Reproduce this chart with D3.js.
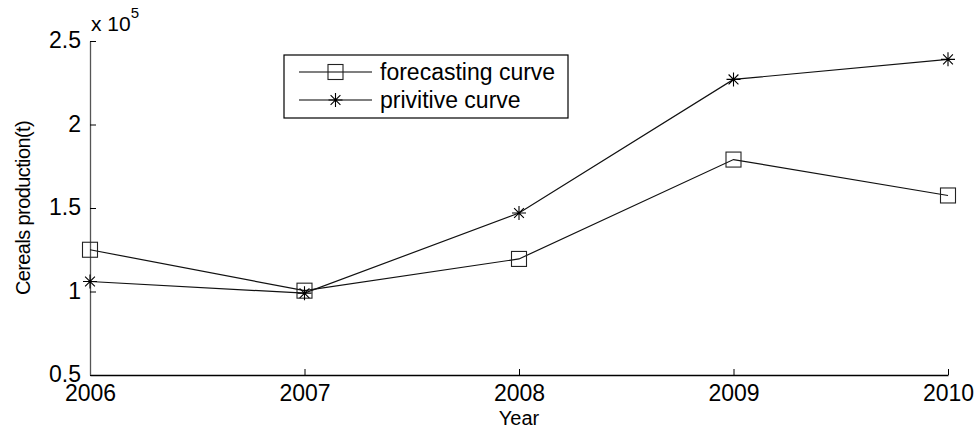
<!DOCTYPE html>
<html><head><meta charset="utf-8">
<script src="https://cdn.jsdelivr.net/npm/d3@7"></script>
<style>body{margin:0;background:#fff}svg{display:block}text{font-family:"Liberation Sans",Arial,sans-serif;fill:#000}</style>
</head><body><svg id="c" width="978" height="429"></svg>
<script>
const years = [2006, 2007, 2008, 2009, 2010];
const forecasting = [1.25, 1.005, 1.195, 1.79, 1.575];   // x 10^5
const primitive = [1.06, 0.99, 1.47, 2.27, 2.39];        // x 10^5
const yTicks = [0.5, 1, 1.5, 2, 2.5];
const seriesNames = ["forecasting curve", "privitive curve"];

const svg = d3.select("#c");
const L = 90, R = 948, T = 41, B = 375;
const x = d3.scaleLinear().domain([2006, 2010]).range([L, R]);
const y = d3.scaleLinear().domain([0.5, 2.5]).range([B, T]);
const fs = 23;

// axes
const xa = svg.append("g").attr("transform", `translate(0,${B})`)
  .call(d3.axisBottom(x).tickValues(years).tickFormat(d3.format("d")).tickSizeInner(-6).tickSizeOuter(0).tickPadding(10));
const ya = svg.append("g").attr("transform", `translate(${L},0)`)
  .call(d3.axisLeft(y).tickValues(yTicks).tickFormat(d => d3.format("")(d)).tickSizeInner(-6).tickSizeOuter(0).tickPadding(9));
[xa, ya].forEach(g => {
  g.select(".domain").attr("stroke", "#000").attr("stroke-width", 1.3);
  g.selectAll(".tick line").attr("stroke", "#000");
  g.selectAll("text").attr("font-size", fs).attr("font-family", '"Liberation Sans",Arial,sans-serif').attr("fill", "#000");
});
ya.select(".domain").attr("stroke", "#555");
ya.selectAll(".tick text").attr("dy", "0.3em");

// exponent
const ex = svg.append("text").attr("x", 91).attr("y", 31).attr("font-size", 21);
ex.append("tspan").text("x 10");
ex.append("tspan").attr("dy", -13).attr("font-size", 15).text("5");

// axis labels
svg.append("text").attr("x", x(2008)).attr("y", 425).attr("text-anchor", "middle").attr("font-size", 20).text("Year");
svg.append("text").attr("transform", `translate(30,${(T + B) / 2}) rotate(-90)`).attr("text-anchor", "middle")
  .attr("font-size", 20).attr("letter-spacing", -0.6).text("Cereals production(t)");

const line = d3.line().x((d, i) => x(years[i])).y(d => y(d));
function square(g, cx, cy) {
  g.append("rect").attr("x", cx - 7.5).attr("y", cy - 7.5).attr("width", 15).attr("height", 15)
    .attr("fill", "none").attr("stroke", "#222").attr("stroke-width", 1.1);
}
function star(g, cx, cy) {
  const r = 7;
  const p = d3.path();
  p.moveTo(cx - r, cy); p.lineTo(cx + r, cy);
  p.moveTo(cx, cy - r); p.lineTo(cx, cy + r);
  const a = r * 0.7;
  p.moveTo(cx - a, cy - a); p.lineTo(cx + a, cy + a);
  p.moveTo(cx - a, cy + a); p.lineTo(cx + a, cy - a);
  g.append("path").attr("d", p.toString()).attr("stroke", "#000").attr("stroke-width", 1.1).attr("fill", "none");
}

const gF = svg.append("g"), gP = svg.append("g");
gF.append("path").datum(forecasting).attr("d", line).attr("fill", "none").attr("stroke", "#111").attr("stroke-width", 1.2);
gP.append("path").datum(primitive).attr("d", line).attr("fill", "none").attr("stroke", "#111").attr("stroke-width", 1.2);
forecasting.forEach((v, i) => square(gF, x(years[i]), y(v)));
primitive.forEach((v, i) => star(gP, x(years[i]), y(v)));

// legend
const lg = svg.append("g");
lg.append("rect").attr("x", 284).attr("y", 55).attr("width", 284).attr("height", 63)
  .attr("fill", "#fff").attr("stroke", "#000").attr("stroke-width", 1.2);
[72, 100].forEach((ly, i) => {
  lg.append("line").attr("x1", 299).attr("x2", 372).attr("y1", ly).attr("y2", ly).attr("stroke", "#000").attr("stroke-width", 1.2);
  if (i === 0) square(lg, 335.5, ly); else star(lg, 335.5, ly);
  lg.append("text").attr("x", 380).attr("y", ly + 8).attr("font-size", fs).text(seriesNames[i]);
});
</script></body></html>
